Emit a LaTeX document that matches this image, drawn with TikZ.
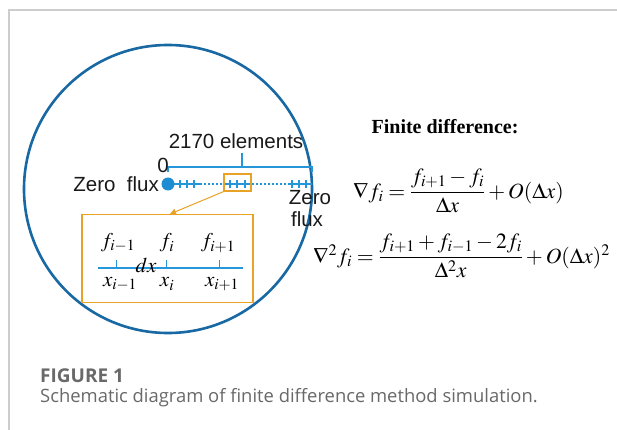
\documentclass[tikz,border=0pt]{standalone}
\usepackage{amsmath}
\usepackage{mathptmx}
\usepackage[no-math]{fontspec}
\setmainfont{Liberation Serif}
\newfontfamily\sansf{Liberation Sans}
\newfontfamily\capf{Open Sans}
\usetikzlibrary{arrows.meta}
\definecolor{circblue}{RGB}{24,104,163}
\definecolor{lineblue}{RGB}{38,150,218}
\definecolor{dotblue}{RGB}{30,140,210}
\definecolor{boxorange}{RGB}{232,163,38}
\definecolor{framegray}{RGB}{205,205,205}
\definecolor{capgray}{RGB}{105,105,105}
\tikzset{
  sanslabel/.style={font=\sansf\fontsize{20.5}{24}\selectfont, inner sep=0pt, text=black!90},
  mathlabel/.style={font=\fontsize{21}{24}\selectfont, inner sep=0pt},
  eqlabel/.style={font=\fontsize{21.7}{26}\selectfont, inner sep=0pt, anchor=base west},
  tickmark/.style={lineblue, line width=1.2pt},
  mainline/.style={lineblue, line width=2.4pt},
  dotline/.style={lineblue, line width=2.4pt, dash pattern=on 2pt off 2pt},
  orangebox/.style={draw=boxorange, line width=1.4pt, inner sep=0pt}
}
\begin{document}
\begin{tikzpicture}[x=1pt,y=-1pt]
\useasboundingbox (0,0) rectangle (617,430);
\fill[white] (0,0) rectangle (617,430);
\draw[framegray, line width=1.2pt] (9,430) -- (9,10) -- (617,10);

% big circle
\node[circle, draw=circblue, line width=2.6pt, minimum size=288pt, inner sep=0pt] (circ) at (168,189) {};

% element line
\coordinate (L0) at (168,184);
\coordinate (A1) at (200,184);
\coordinate (A2) at (224,184);
\coordinate (A3) at (252,184);
\coordinate (A4) at (288,184);
\coordinate (L1) at (312,184);
\draw[mainline] (L0) -- (A1);
\draw[dotline] (A1) -- (A2);
\draw[mainline] (A2) -- (A3);
\draw[dotline] (A3) -- (A4);
\draw[mainline] (A4) -- (L1);
\foreach \x in {180,187,194,230,237,245,292,299,306}
  \draw[tickmark] (\x,180) -- (\x,188);
\node[circle, fill=dotblue, minimum size=13pt, inner sep=0pt] (dot) at (L0) {};

% bracket
\coordinate (B0) at (168,167);
\coordinate (B1) at (312,167);
\coordinate (Bm) at (242,167);
\coordinate (Bt) at (242,153);
\draw[lineblue, line width=2pt] (168,172) -- (B0) -- (B1) -- (312,172);
\draw[lineblue, line width=2pt] (Bm) -- (Bt);

% labels
\node[sanslabel] (elems) at (236,141) {2170 elements};
\node[sanslabel, anchor=east] (zf1) at (159,184) {Zero\ \ flux};
\node[sanslabel] (zero) at (163,165) {0};
\node[sanslabel] (zf2a) at (310,198) {Zero};
\node[sanslabel] (zf2b) at (307,219) {flux};

% small box and big box
\node[orangebox, minimum width=27pt, minimum height=17pt] (smallbox) at (237.5,182.5) {};
\node[orangebox, minimum width=171pt, minimum height=88pt] (bigbox) at (167.5,258.5) {};
\coordinate (tip) at (170,214);
\draw[boxorange, line width=1pt, -{Triangle[length=6pt,width=6pt]}] (smallbox.south west) -- (tip);

% inner line
\coordinate (I0) at (98,268);
\coordinate (I1) at (243,268);
\draw[lineblue, line width=2.2pt] (I0) -- (I1);
\foreach \x in {116,166,219}
  \draw[lineblue, line width=1pt] (\x,260) -- (\x,268);
\node[mathlabel] (f1) at (118,243) {$f_{i-1}$};
\node[mathlabel] (f2) at (167,243) {$f_{i}$};
\node[mathlabel] (f3) at (218,243) {$f_{i+1}$};
\node[mathlabel] (dx) at (146,265) {$dx$};
\node[mathlabel] (x1) at (120,284) {$x_{i-1}$};
\node[mathlabel] (x2) at (167,284) {$x_{i}$};
\node[mathlabel] (x3) at (222,284) {$x_{i+1}$};

% equations
\node[font=\bfseries\fontsize{20}{24}\selectfont, inner sep=0pt] (title) at (445,127) {Finite difference:};
\node[eqlabel] (eq1) at (353,198) {$\nabla f_i = \dfrac{f_{i+1}-f_i}{\Delta x}+O(\Delta x)$};
\node[eqlabel] (eq2) at (313,263) {$\nabla^2 f_i = \dfrac{f_{i+1}+f_{i-1}-2f_i}{\Delta^2 x}+O(\Delta x)^2$};

% caption
\node[font=\capf\bfseries\fontsize{19}{22}\selectfont, text=capgray, anchor=west, inner sep=0pt] (fig) at (40,376) {FIGURE 1};
\node[font=\capf\fontsize{18.4}{22}\selectfont, text=capgray, anchor=west, inner sep=0pt] (cap) at (40,398) {Schematic diagram of finite difference method simulation.};
\end{tikzpicture}
\end{document}
